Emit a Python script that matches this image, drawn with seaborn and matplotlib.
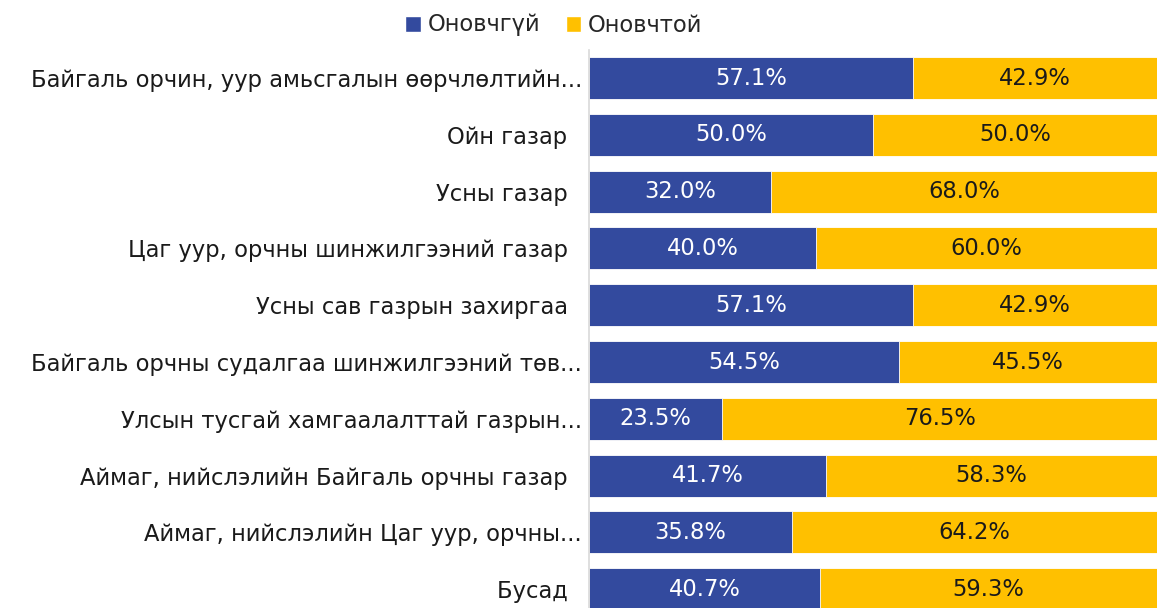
import matplotlib
matplotlib.use("Agg")
import matplotlib.pyplot as plt
import seaborn as sns
import pandas as pd
from matplotlib.patches import Patch

categories = [
    "Байгаль орчин, уур амьсгалын өөрчлөлтийн...",
    "Ойн газар  ",
    "Усны газар  ",
    "Цаг уур, орчны шинжилгээний газар  ",
    "Усны сав газрын захиргаа  ",
    "Байгаль орчны судалгаа шинжилгээний төв...",
    "Улсын тусгай хамгаалалттай газрын...",
    "Аймаг, нийслэлийн Байгаль орчны газар  ",
    "Аймаг, нийслэлийн Цаг уур, орчны...",
    "Бусад  ",
]
not_optimal = [57.1, 50.0, 32.0, 40.0, 57.1, 54.5, 23.5, 41.7, 35.8, 40.7]
optimal = [42.9, 50.0, 68.0, 60.0, 42.9, 45.5, 76.5, 58.3, 64.2, 59.3]
series_names = ["Оновчгүй", "Оновчтой"]

BLUE = "#334A9E"
YELLOW = "#FFC000"
FS = 16.3

sns.set_style("white")
plt.rcParams["font.family"] = ["DejaVu Sans"]

df = pd.DataFrame({
    "category": categories,
    "not_optimal": not_optimal,
    "optimal": optimal,
})
df["total"] = df["not_optimal"] + df["optimal"]

fig = plt.figure(figsize=(11.57, 6.08), dpi=100)
ax = fig.add_axes([589 / 1157, 0.0, 1 - 589 / 1157, 1 - 49.6 / 608])

sns.barplot(data=df, x="total", y="category", color=YELLOW, orient="h",
            width=0.74, edgecolor="white", linewidth=0.6, ax=ax, saturation=1)
sns.barplot(data=df, x="not_optimal", y="category", color=BLUE, orient="h",
            width=0.74, edgecolor="white", linewidth=0.6, ax=ax, saturation=1)

for i, (a, b) in enumerate(zip(not_optimal, optimal)):
    ax.text(a / 2, i, f"{a:.1f}%", ha="center", va="center",
            color="white", fontsize=FS)
    ax.text(a + b / 2, i, f"{b:.1f}%", ha="center", va="center",
            color="#1a1a1a", fontsize=FS)

ax.set_xlim(0, 100)
ax.set_ylim(9.33, -0.5)
ax.set_xlabel("")
ax.set_ylabel("")
ax.set_xticks([])
ax.tick_params(axis="y", length=0, pad=5, labelsize=FS, labelcolor="#1a1a1a")
for side in ["top", "right", "bottom"]:
    ax.spines[side].set_visible(False)
ax.spines["left"].set_color("#D9D9D9")
ax.spines["left"].set_linewidth(1.2)

handles = [Patch(facecolor=BLUE, label=series_names[0]),
           Patch(facecolor=YELLOW, label=series_names[1])]
fig.legend(handles=handles, loc="center", bbox_to_anchor=(554 / 1157, 1 - 25 / 608),
           ncol=2, frameon=False, fontsize=FS, handlelength=0.7, handleheight=0.7,
           handletextpad=0.3, columnspacing=1.1)

fig.savefig("out.png", dpi=100)
